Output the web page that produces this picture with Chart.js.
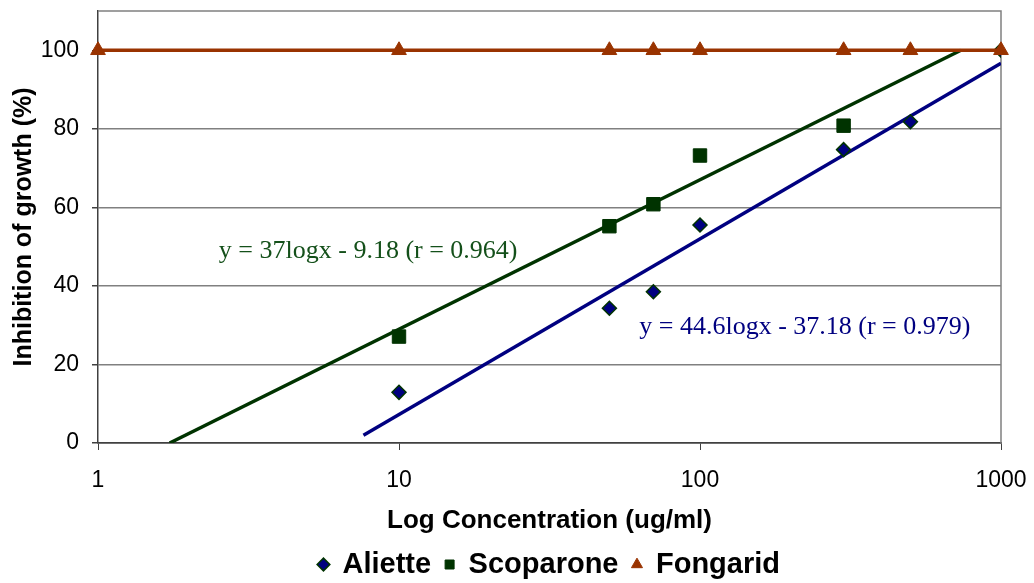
<!DOCTYPE html>
<html>
<head>
<meta charset="utf-8">
<script src="https://cdn.jsdelivr.net/npm/chart.js@4.4.1/dist/chart.umd.min.js"></script>
<style>
  html, body { margin: 0; padding: 0; background: #fff; }
</style>
</head>
<body>
<canvas id="inhibitionChart" width="1034" height="583"></canvas>
<script>
// values
const concAliette = [10, 50, 70, 100, 300, 500, 1000];
const aliette = [12.9, 34.3, 38.5, 55.5, 74.7, 81.8, 100];
const concScoparone = [10, 50, 70, 100, 300];
const scoparone = [27.1, 55.2, 60.8, 73.2, 80.8];
const concFongarid = [1, 10, 50, 70, 100, 300, 500, 1000];
const fongarid = [100, 100, 100, 100, 100, 100, 100, 100];

// trendline end points (log fits drawn in the original)
const trendScopConc = [1.73, 736];
const trendScopVal = [0, 100];
const trendAlietteConc = [7.62, 1000];
const trendAlietteVal = [2, 96.7];

const xTicks = [1, 10, 100, 1000];
const yTicks = [0, 20, 40, 60, 80, 100];
const equations = ['y = 37logx - 9.18 (r = 0.964)', 'y = 44.6logx - 37.18 (r = 0.979)'];

const ctx = document.getElementById('inhibitionChart').getContext('2d');

function toPoints(xs, ys) {
    return xs.map((x, i) => ({ x: x, y: ys[i] }));
}

// gray border on top and right of the plot area
const plotBorder = {
    id: 'plotBorder',
    beforeDatasetsDraw(chart) {
        const a = chart.chartArea;
        const c = chart.ctx;
        c.save();
        c.strokeStyle = '#808080';
        c.lineWidth = 1.5;
        c.beginPath();
        c.moveTo(a.left, a.top);
        c.lineTo(a.right, a.top);
        c.lineTo(a.right, a.bottom);
        c.stroke();
        c.restore();
    }
};

// trendline equations, placed in data coordinates
const eqText = {
    id: 'eqText',
    afterDatasetsDraw(chart) {
        const xs = chart.scales.x;
        const ys = chart.scales.y;
        const c = chart.ctx;
        const spots = [
            { x: 7.9, y: 48.8, color: '#14501a' },
            { x: 223, y: 29.4, color: '#000080' }
        ];
        c.save();
        c.font = '26px "Liberation Serif", "Times New Roman", serif';
        c.textAlign = 'center';
        c.textBaseline = 'middle';
        spots.forEach((s, i) => {
            c.fillStyle = s.color;
            c.fillText(equations[i], xs.getPixelForValue(s.x), ys.getPixelForValue(s.y));
        });
        c.restore();
    }
};

new Chart(ctx, {
    type: 'scatter',
    data: {
        datasets: [
            {
                label: 'Aliette',
                data: toPoints(concAliette, aliette),
                pointStyle: 'rectRot',
                pointRadius: 7,
                pointHoverRadius: 7,
                backgroundColor: '#000080',
                borderColor: '#003300',
                borderWidth: 1.5,
                order: 2
            },
            {
                label: 'Scoparone',
                data: toPoints(concScoparone, scoparone),
                pointStyle: 'rect',
                pointRadius: 9.5,
                pointHoverRadius: 9.5,
                backgroundColor: '#003300',
                borderColor: '#003300',
                borderWidth: 1,
                order: 1
            },
            {
                label: 'Fongarid',
                data: toPoints(concFongarid, fongarid),
                showLine: true,
                pointStyle: 'triangle',
                pointRadius: 8.5,
                pointHoverRadius: 8.5,
                backgroundColor: '#993300',
                borderColor: '#993300',
                borderWidth: 3.5,
                pointBorderWidth: 1,
                clip: false,
                order: 0
            },
            {
                label: 'trendScop',
                data: toPoints(trendScopConc, trendScopVal),
                showLine: true,
                pointRadius: 0,
                borderColor: '#003300',
                borderWidth: 3.5,
                order: 3
            },
            {
                label: 'trendAliette',
                data: toPoints(trendAlietteConc, trendAlietteVal),
                showLine: true,
                pointRadius: 0,
                borderColor: '#000080',
                borderWidth: 3.5,
                order: 4
            }
        ]
    },
    options: {
        responsive: false,
        animation: false,
        layout: { padding: { top: 11, right: 33, left: 0, bottom: -6 } },
        scales: {
            x: {
                type: 'logarithmic',
                min: 1,
                max: 1000,
                afterBuildTicks: (scale) => { scale.ticks = xTicks.map(v => ({ value: v })); },
                afterFit: (scale) => {
                    scale.height = 93;
                    scale.paddingLeft = 0;
                    scale.paddingRight = 0;
                },
                ticks: {
                    color: '#000',
                    padding: 17,
                    maxRotation: 0,
                    font: { family: '"Liberation Sans", Arial, sans-serif', size: 23 },
                    callback: (v) => String(v)
                },
                grid: { drawOnChartArea: false, tickLength: 7, color: '#404040', tickColor: '#404040' },
                border: { color: '#404040', width: 1.5 },
                title: {
                    display: true,
                    text: 'Log Concentration (ug/ml)',
                    color: '#000',
                    padding: { top: 0, bottom: 0 },
                    font: { family: '"Liberation Sans", Arial, sans-serif', size: 26, weight: 'bold' }
                }
            },
            y: {
                min: 0,
                max: 110,
                afterBuildTicks: (scale) => { scale.ticks = yTicks.map(v => ({ value: v })); },
                afterFit: (scale) => {
                    scale.width = 98;
                    scale.paddingTop = 0;
                    scale.paddingBottom = 0;
                },
                ticks: {
                    color: '#000',
                    padding: 13,
                    font: { family: '"Liberation Sans", Arial, sans-serif', size: 23 }
                },
                grid: {
                    color: (c) => c.tick && c.tick.value === 0 ? '#404040' : '#808080',
                    lineWidth: 1.5,
                    tickLength: 6,
                    tickColor: '#404040'
                },
                border: { color: '#404040', width: 1.5 },
                title: {
                    display: true,
                    text: 'Inhibition of growth (%)',
                    color: '#000',
                    padding: { top: 9, bottom: 0 },
                    font: { family: '"Liberation Sans", Arial, sans-serif', size: 25, weight: 'bold' }
                }
            }
        },
        plugins: {
            tooltip: { enabled: false },
            legend: {
                position: 'bottom',
                fullSize: false,
                labels: {
                    usePointStyle: true,
                    boxHeight: 9,
                    boxWidth: 9,
                    padding: 14,
                    color: '#000',
                    font: { family: '"Liberation Sans", Arial, sans-serif', size: 29, weight: 'bold' },
                    filter: (item) => item.datasetIndex < 3,
                    sort: (a, b) => a.datasetIndex - b.datasetIndex
                }
            }
        }
    },
    plugins: [plotBorder, eqText]
});
</script>
</body>
</html>
